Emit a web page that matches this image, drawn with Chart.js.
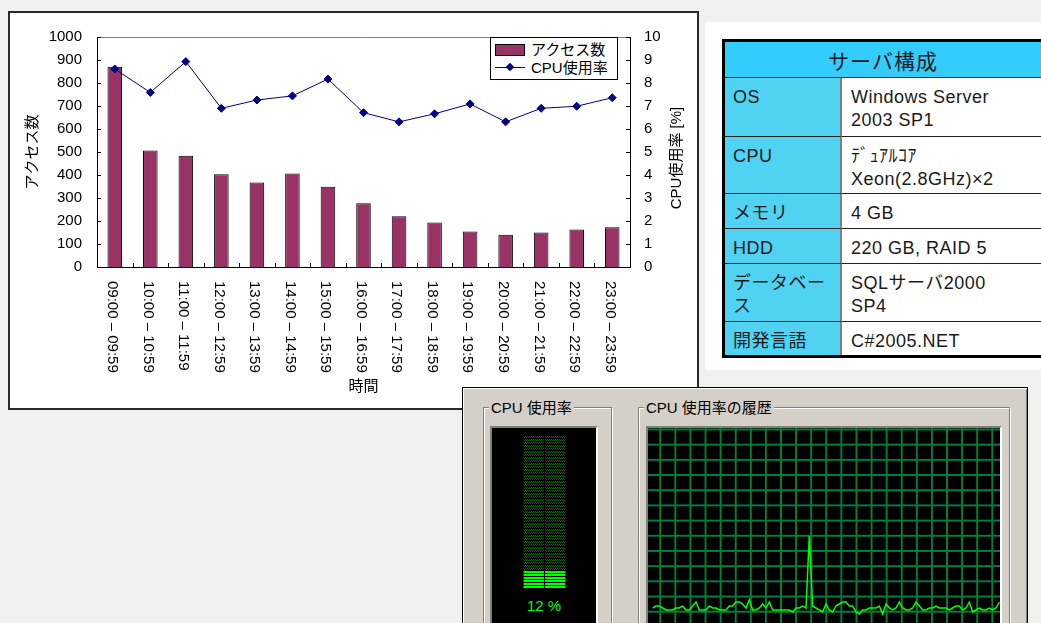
<!DOCTYPE html>
<html lang="ja">
<head>
<meta charset="utf-8">
<title>アクセス数とCPU使用率</title>
<script src="https://cdn.jsdelivr.net/npm/chart.js@4.4.1/dist/chart.umd.min.js"></script>
<style>
html, body { margin: 0; padding: 0; }
body {
	width: 1041px; height: 623px; overflow: hidden; position: relative;
	background: #f0f0f0;
	font-family: "Liberation Sans", "Noto Sans CJK JP", sans-serif;
}
#chartBox {
	position: absolute; left: 8px; top: 11px; width: 691px; height: 399px;
	box-sizing: border-box; border: 2px solid #2a2a2a; background: #fff;
}
#chartBox canvas { display: block; }
#legend {
	position: absolute; left: 490px; top: 37px; width: 128px; height: 43px;
	box-sizing: border-box; border: 1px solid #000; background: #fff;
	font-size: 15px; color: #000;
}
#legend .row { position: absolute; left: 4px; height: 18px; line-height: 18px; white-space: nowrap; }
#legend .sw { position: absolute; left: 0; width: 30px; }
#legend .txt { position: absolute; left: 36px; top: 0; }
#legend .barSw { top: 3px; height: 12px; box-sizing: border-box; border: 1px solid #000; background: #993366; }
#legend .lineSw { top: 8px; height: 1px; background: #000080; }
#legend .dia { position: absolute; left: 12px; top: -3px; width: 6px; height: 6px; background: #000080; transform: rotate(45deg); }

#card { position: absolute; left: 705px; top: 22px; width: 400px; height: 348px; background: #fff; }
#spec {
	position: absolute; left: 722px; top: 39px; width: 322px;
	table-layout: fixed; border-collapse: separate; border-spacing: 0;
	border: 3px solid #000; color: #1a1a1a;
	font-size: 18px; letter-spacing: 0.5px;
}
#spec th {
	box-sizing: border-box; height: 36px; padding: 0;
	background: #33ccff; font-weight: normal; font-size: 21px; letter-spacing: 1px;
	border-bottom: 1px solid #222;
}
#spec td {
	box-sizing: border-box; vertical-align: top; padding: 8px 4px 0 9px;
	line-height: 23px; border-bottom: 1px solid #222; background: #fff;
}
#spec td.k { background: #50d2f2; border-right: 2px solid #7f7f7f; padding-left: 8px; }
#spec tr:last-child td { border-bottom: none; }
#spec tr.r1 td { height: 59px; }
#spec tr.r2 td { height: 57px; }
#spec tr.r3 td { height: 35px; }
#spec tr.r4 td { height: 35px; }
#spec tr.r5 td { height: 58px; }
#spec tr.r6 td { height: 33px; }

#tm {
	position: absolute; left: 462px; top: 387px; width: 566px; height: 260px;
	box-sizing: border-box; background: #d4d0c8; border: 1px solid #000;
	box-shadow: inset 1px 1px 0 #fff, inset -1px 0 0 #808080;
}
.grp {
	position: absolute; top: 407px; height: 240px; box-sizing: border-box;
	border: 1px solid #808080; box-shadow: inset 1px 1px 0 #fff, 1px 1px 0 #fff;
}
.gt {
	position: absolute; top: 399px; padding: 0 2px; background: #d4d0c8;
	font-size: 15px; line-height: 18px; color: #000;
}
.sunk {
	position: absolute; top: 426px; height: 220px; box-sizing: border-box;
	border-style: solid; border-width: 2px; border-color: #808080 #fff #fff #808080;
	background: #000;
}
#meterWrap { position: absolute; left: 523px; top: 436px; width: 43px; height: 153px; }
#meterText {
	position: absolute; left: 492px; top: 597px; width: 104px; text-align: center;
	font-size: 15px; line-height: 18px; color: #00ff00;
}
#histWrap {
	position: absolute; left: 648px; top: 428px; width: 352px; height: 200px;
	background-color: #000;
	background-image:
		linear-gradient(to right, #008040 0, #008040 1.5px, transparent 1.5px),
		linear-gradient(to bottom, #008040 0, #008040 1.5px, transparent 1.5px);
	background-size: 15.1px 15.2px;
	background-position: 11.3px 0.5px;
}
#meterWrap canvas, #histWrap canvas { display: block; }
</style>
</head>
<body>

<div id="chartBox"><canvas id="mainChart" width="687" height="395"></canvas></div>
<div id="legend">
	<div class="row" style="top:3px"><div class="sw barSw"></div><span class="txt" id="lg0"></span></div>
	<div class="row" style="top:21px"><div class="sw lineSw"><div class="dia"></div></div><span class="txt" id="lg1"></span></div>
</div>

<div id="card"></div>
<table id="spec">
	<colgroup><col style="width:117px"><col></colgroup>
	<tr><th colspan="2">サーバ構成</th></tr>
	<tr class="r1"><td class="k">OS</td><td>Windows Server<br>2003 SP1</td></tr>
	<tr class="r2"><td class="k">CPU</td><td>ﾃﾞｭｱﾙｺｱ<br>Xeon(2.8GHz)×2</td></tr>
	<tr class="r3"><td class="k">メモリ</td><td>4 GB</td></tr>
	<tr class="r4"><td class="k">HDD</td><td>220 GB, RAID 5</td></tr>
	<tr class="r5"><td class="k">データベース</td><td>SQLサーバ2000<br>SP4</td></tr>
	<tr class="r6"><td class="k">開発言語</td><td>C#2005.NET</td></tr>
</table>

<div id="tm"></div>
<div class="grp" style="left:483px; width:129px"></div>
<div class="grp" style="left:638px; width:372px"></div>
<div class="gt" style="left:489px">CPU 使用率</div>
<div class="gt" style="left:644px">CPU 使用率の履歴</div>
<div class="sunk" style="left:490px; width:108px"></div>
<div class="sunk" style="left:646px; width:356px"></div>
<div id="meterWrap"><canvas id="meterChart" width="43" height="153"></canvas></div>
<div id="meterText"></div>
<div id="histWrap"><canvas id="histChart" width="352" height="200"></canvas></div>

<script>
// hourly access log, 09:00 - 23:59
var hours = [
	'09:00 – 09:59', '10:00 – 10:59', '11:00 – 11:59', '12:00 – 12:59', '13:00 – 13:59',
	'14:00 – 14:59', '15:00 – 15:59', '16:00 – 16:59', '17:00 – 17:59', '18:00 – 18:59',
	'19:00 – 19:59', '20:00 – 20:59', '21:00 – 21:59', '22:00 – 22:59', '23:00 – 23:59'
];
var accessCounts = [871, 507, 484, 403, 367, 407, 349, 277, 221, 194, 154, 140, 150, 163, 173];
var cpuRates = [8.61, 7.59, 8.93, 6.90, 7.26, 7.44, 8.17, 6.71, 6.31, 6.66, 7.09, 6.31, 6.90, 6.99, 7.36];
var accessLabel = 'アクセス数';
var cpuLabel = 'CPU使用率';

// task manager snapshot
var meterLoad = [12, 12];
var cpuHistory = [
	10, 11, 11, 10, 9, 9, 9, 10, 10, 11, 9, 9, 11, 13, 9, 9, 9, 11, 10, 10,
	9, 9, 9, 11, 11, 13, 13, 12, 10, 14, 9, 9, 10, 12, 10, 13, 9, 9, 9, 9,
	9, 9, 8, 10, 10, 11, 10, 46, 11, 10, 9, 8, 12, 9, 8, 11, 12, 13, 13, 11,
	11, 8, 7, 9, 9, 10, 10, 10, 11, 7, 12, 10, 9, 10, 13, 10, 9, 9, 10, 13,
	11, 9, 9, 10, 10, 11, 10, 10, 10, 9, 10, 11, 11, 9, 10, 13, 8, 9, 10, 9,
	9, 10, 9, 10, 13
];

var FONT = '"Liberation Sans", "Noto Sans CJK JP", sans-serif';
var tickFont = { family: FONT, size: 15 };

// Excel-style extras: inward tick marks, grey plot top edge, vertical category labels
var excelDecor = {
	id: 'excelDecor',
	afterDraw: function (chart) {
		var ctx = chart.ctx, a = chart.chartArea;
		var x = chart.scales.x, y = chart.scales.y, y1 = chart.scales.y1;
		ctx.save();
		ctx.lineWidth = 1;
		ctx.strokeStyle = '#808080';
		ctx.beginPath();
		ctx.moveTo(a.left, a.top + 0.5);
		ctx.lineTo(a.right, a.top + 0.5);
		ctx.stroke();

		ctx.strokeStyle = '#000';
		ctx.beginPath();
		y.ticks.forEach(function (t) {
			var py = Math.round(y.getPixelForValue(t.value)) + 0.5;
			ctx.moveTo(a.left, py);
			ctx.lineTo(a.left + 4, py);
		});
		y1.ticks.forEach(function (t) {
			var py = Math.round(y1.getPixelForValue(t.value)) + 0.5;
			ctx.moveTo(a.right - 4, py);
			ctx.lineTo(a.right, py);
		});
		for (var i = 1; i < hours.length; i++) {
			var px = Math.round((x.getPixelForValue(i - 1) + x.getPixelForValue(i)) / 2) + 0.5;
			ctx.moveTo(px, a.bottom);
			ctx.lineTo(px, a.bottom - 4);
		}
		ctx.stroke();

		ctx.fillStyle = '#000';
		ctx.font = '15px ' + FONT;
		ctx.textAlign = 'left';
		ctx.textBaseline = 'middle';
		hours.forEach(function (h, i) {
			ctx.save();
			ctx.translate(x.getPixelForValue(i) - 2.5, a.bottom + 14);
			ctx.rotate(Math.PI / 2);
			ctx.fillText(h, 0, 0);
			ctx.restore();
		});

		// right axis title reads bottom-to-top
		ctx.save();
		ctx.translate(y1.right - 20, (a.top + a.bottom) / 2 + 6);
		ctx.rotate(-Math.PI / 2);
		ctx.textAlign = 'center';
		ctx.fillText(cpuLabel + ' [%]', 0, 0);
		ctx.restore();
		ctx.restore();
	}
};

var mainChart = new Chart(document.getElementById('mainChart'), {
	data: {
		labels: hours,
		datasets: [{
			type: 'line',
			label: cpuLabel,
			data: cpuRates,
			yAxisID: 'y1',
			borderColor: '#000080',
			backgroundColor: '#000080',
			borderWidth: 1,
			pointStyle: 'rectRot',
			pointRadius: 4,
			pointHoverRadius: 4,
			order: 0
		}, {
			type: 'bar',
			label: accessLabel,
			data: accessCounts,
			yAxisID: 'y',
			backgroundColor: '#993366',
			borderColor: '#000',
			borderWidth: 1,
			barPercentage: 0.41,
			categoryPercentage: 1,
			order: 1
		}]
	},
	options: {
		responsive: false,
		animation: false,
		layout: { padding: { top: 21, left: 0, right: 0, bottom: 0 } },
		plugins: { legend: { display: false }, tooltip: { enabled: false } },
		scales: {
			x: {
				grid: { display: false },
				border: { color: '#000', width: 1 },
				ticks: { display: false },
				title: { display: true, text: '時間', color: '#000', font: tickFont, padding: { top: 0, bottom: 12 } },
				afterFit: function (s) { s.height = 141; }
			},
			y: {
				position: 'left',
				min: 0,
				max: 1000,
				grid: { display: false, drawTicks: false },
				border: { color: '#000', width: 1 },
				ticks: {
					stepSize: 100, padding: 15, color: '#000', font: tickFont,
					callback: function (v) { return String(v); }
				},
				title: { display: true, text: accessLabel, color: '#000', font: tickFont, padding: { top: 14, bottom: 0 } },
				afterFit: function (s) { s.width = 87; }
			},
			y1: {
				position: 'right',
				min: 0,
				max: 10,
				grid: { display: false, drawTicks: false },
				border: { color: '#000', width: 1 },
				ticks: {
					stepSize: 1, padding: 14, color: '#000', font: tickFont,
					callback: function (v) { return String(v); }
				},
				afterFit: function (s) { s.width = 67; }
			}
		}
	},
	plugins: [excelDecor]
});

// legend text comes from the datasets
document.getElementById('lg0').textContent = mainChart.data.datasets[1].label;
document.getElementById('lg1').textContent = mainChart.data.datasets[0].label;

////////////////////////////////////////////////////////////////////////////////

function makePattern(w, h, paint) {
	var c = document.createElement('canvas');
	c.width = w;
	c.height = h;
	var g = c.getContext('2d');
	paint(g);
	return g.createPattern(c, 'repeat');
}

var brightPattern = makePattern(1, 3, function (g) {
	g.fillStyle = '#00ff00';
	g.fillRect(0, 0, 1, 2);
});
var dimPattern = makePattern(2, 3, function (g) {
	g.fillStyle = '#007000';
	g.fillRect(0, 0, 1, 1);
	g.fillRect(1, 1, 1, 1);
});

new Chart(document.getElementById('meterChart'), {
	type: 'bar',
	data: {
		labels: ['', ''],
		datasets: [{
			data: meterLoad,
			backgroundColor: brightPattern,
			barPercentage: 0.95,
			categoryPercentage: 1
		}, {
			data: meterLoad.map(function (v) { return 100 - v; }),
			backgroundColor: dimPattern,
			barPercentage: 0.95,
			categoryPercentage: 1
		}]
	},
	options: {
		responsive: false,
		animation: false,
		layout: { padding: 0, autoPadding: false },
		plugins: { legend: { display: false }, tooltip: { enabled: false } },
		scales: {
			x: { display: false, stacked: true },
			y: { display: false, stacked: true, min: 0, max: 100 }
		}
	}
});
document.getElementById('meterText').textContent = meterLoad[0] + ' %';

new Chart(document.getElementById('histChart'), {
	type: 'line',
	data: {
		datasets: [{
			data: cpuHistory.map(function (v, i) { return { x: i, y: v }; }),
			borderColor: '#00ff00',
			borderWidth: 1.5,
			pointRadius: 0,
			tension: 0
		}]
	},
	options: {
		responsive: false,
		animation: false,
		layout: { padding: 0, autoPadding: false },
		plugins: { legend: { display: false }, tooltip: { enabled: false } },
		scales: {
			x: { type: 'linear', display: false, min: -1.4, max: 104.2 },
			y: { display: false, min: 0, max: 100 }
		}
	}
});
</script>
</body>
</html>
